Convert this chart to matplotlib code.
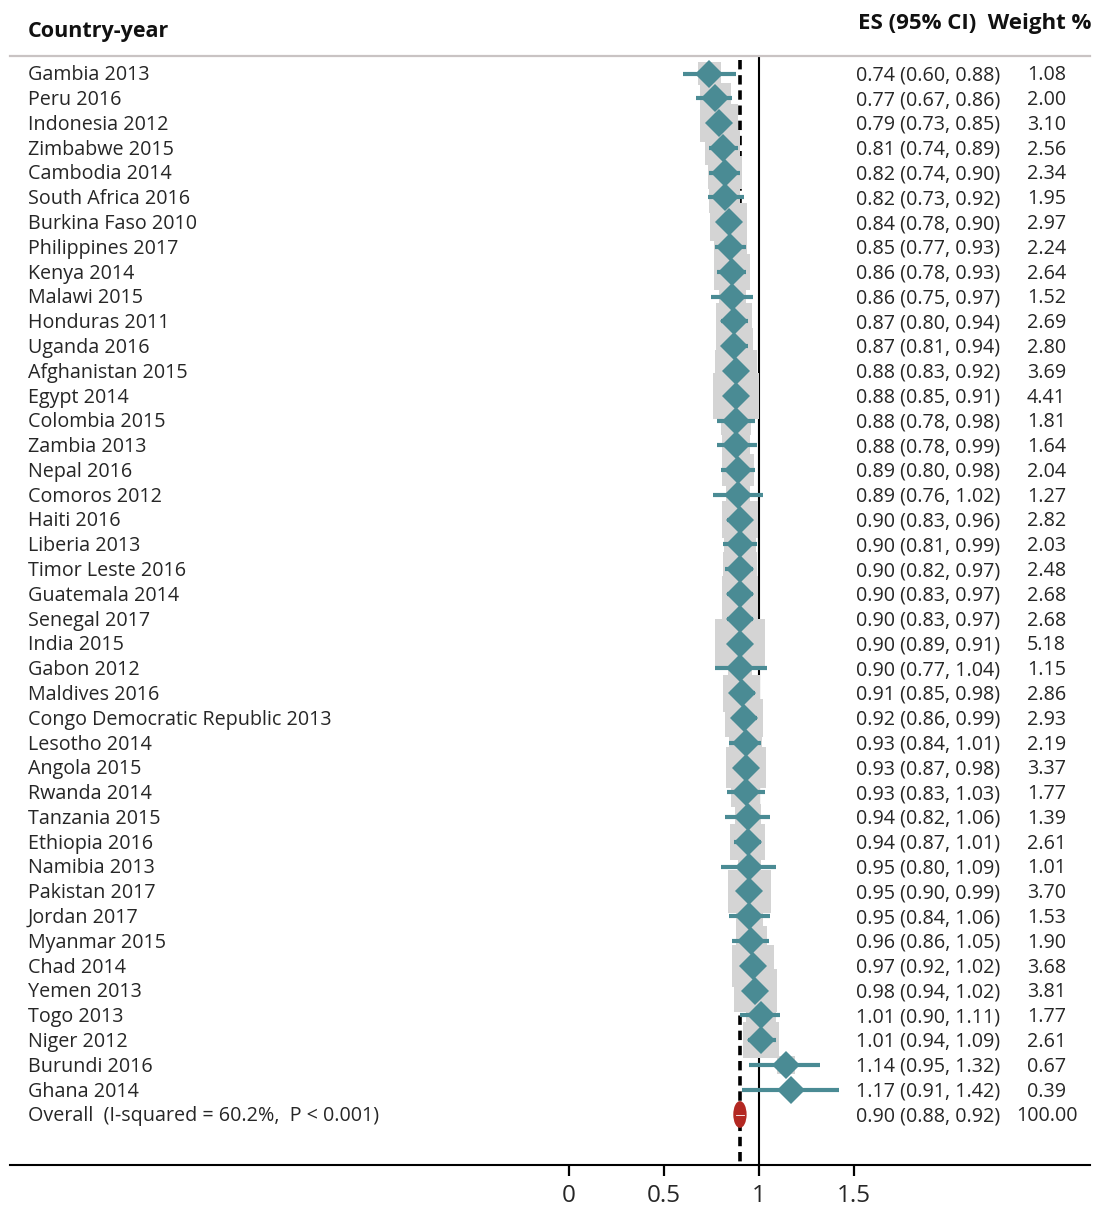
import matplotlib
matplotlib.use("Agg")
import matplotlib.pyplot as plt
from matplotlib.patches import Ellipse

countries = ["Gambia 2013", "Peru 2016", "Indonesia 2012", "Zimbabwe 2015", "Cambodia 2014",
             "South Africa 2016", "Burkina Faso 2010", "Philippines 2017", "Kenya 2014", "Malawi 2015",
             "Honduras 2011", "Uganda 2016", "Afghanistan 2015", "Egypt 2014", "Colombia 2015",
             "Zambia 2013", "Nepal 2016", "Comoros 2012", "Haiti 2016", "Liberia 2013",
             "Timor Leste 2016", "Guatemala 2014", "Senegal 2017", "India 2015", "Gabon 2012",
             "Maldives 2016", "Congo Democratic Republic 2013", "Lesotho 2014", "Angola 2015", "Rwanda 2014",
             "Tanzania 2015", "Ethiopia 2016", "Namibia 2013", "Pakistan 2017", "Jordan 2017",
             "Myanmar 2015", "Chad 2014", "Yemen 2013", "Togo 2013", "Niger 2012",
             "Burundi 2016", "Ghana 2014"]
es = [0.74, 0.77, 0.79, 0.81, 0.82, 0.82, 0.84, 0.85, 0.86, 0.86,
      0.87, 0.87, 0.88, 0.88, 0.88, 0.88, 0.89, 0.89, 0.90, 0.90,
      0.90, 0.90, 0.90, 0.90, 0.90, 0.91, 0.92, 0.93, 0.93, 0.93,
      0.94, 0.94, 0.95, 0.95, 0.95, 0.96, 0.97, 0.98, 1.01, 1.01,
      1.14, 1.17]
lo = [0.60, 0.67, 0.73, 0.74, 0.74, 0.73, 0.78, 0.77, 0.78, 0.75,
      0.80, 0.81, 0.83, 0.85, 0.78, 0.78, 0.80, 0.76, 0.83, 0.81,
      0.82, 0.83, 0.83, 0.89, 0.77, 0.85, 0.86, 0.84, 0.87, 0.83,
      0.82, 0.87, 0.80, 0.90, 0.84, 0.86, 0.92, 0.94, 0.90, 0.94,
      0.95, 0.91]
hi = [0.88, 0.86, 0.85, 0.89, 0.90, 0.92, 0.90, 0.93, 0.93, 0.97,
      0.94, 0.94, 0.92, 0.91, 0.98, 0.99, 0.98, 1.02, 0.96, 0.99,
      0.97, 0.97, 0.97, 0.91, 1.04, 0.98, 0.99, 1.01, 0.98, 1.03,
      1.06, 1.01, 1.09, 0.99, 1.06, 1.05, 1.02, 1.02, 1.11, 1.09,
      1.32, 1.42]
weights = [1.08, 2.00, 3.10, 2.56, 2.34, 1.95, 2.97, 2.24, 2.64, 1.52,
           2.69, 2.80, 3.69, 4.41, 1.81, 1.64, 2.04, 1.27, 2.82, 2.03,
           2.48, 2.68, 2.68, 5.18, 1.15, 2.86, 2.93, 2.19, 3.37, 1.77,
           1.39, 2.61, 1.01, 3.70, 1.53, 1.90, 3.68, 3.81, 1.77, 2.61,
           0.67, 0.39]
overall_label = "Overall  (I-squared = 60.2%,  P < 0.001)"
overall_es, overall_lo, overall_hi, overall_w = 0.90, 0.88, 0.92, 100.00
xticks = [0, 0.5, 1, 1.5]
xticklabels = ["0", "0.5", "1", "1.5"]

W, H = 1093, 1207
fig = plt.figure(figsize=(W / 100, H / 100), dpi=100)
plt.rcParams['font.family'] = ['Open Sans', 'DejaVu Sans']

px_per_unit = 190.5
x0_px = 568.5
left_px, right_px = 10.0, 1090.0
ax = fig.add_axes([left_px / W, (H - 1165) / H, (right_px - left_px) / W, 1165 / H])
ax.set_xlim((left_px - x0_px) / px_per_unit, (right_px - x0_px) / px_per_unit)
row0_px = 73.5
row_step = (1114.5 - 73.5) / 42
ax.set_ylim((1165 - row0_px) / row_step, (0 - row0_px) / row_step)

def px2x(p):
    return (p - x0_px) / px_per_unit

def py2y(p):
    return (p - row0_px) / row_step

n = len(countries)
rows = list(range(n))
teal = '#4a8b94'
txtc = '#262626'
tdy = 1.8 / row_step  # small downward nudge of text baseline

# reference lines
ax.plot([1, 1], [py2y(57), py2y(1165)], color='black', lw=1.5, zorder=0.5)
ax.plot([overall_es, overall_es], [py2y(60), py2y(1165)], color='black', lw=2.6,
        ls=(0, (2.6, 1.6)), zorder=0.4)

# weight squares
ax.scatter(es, rows, s=[250 * w for w in weights], marker='s', color='#d4d4d4',
           linewidths=0, zorder=1)
# CIs
for i in rows:
    ax.plot([lo[i], hi[i]], [i, i], color=teal, lw=3.0, solid_capstyle='butt', zorder=2)
ax.plot(es, rows, 'D', color=teal, ms=14.5, mew=0, zorder=3)

# overall marker
oy = n
ax.add_patch(Ellipse((overall_es, oy), width=(overall_hi - overall_lo) + 0.03, height=1.08,
                     color='#b32822', lw=0, zorder=3))
ax.plot([overall_lo, overall_hi], [oy, oy], color='white', lw=0.6, zorder=3.5)

fs = 14.2
for i in rows:
    ax.text(px2x(28), i + tdy, countries[i], ha='left', va='center', fontsize=fs, color=txtc)
    ax.text(px2x(856), i + tdy, f"{es[i]:.2f} ({lo[i]:.2f}, {hi[i]:.2f})", ha='left', va='center',
            fontsize=fs, color=txtc)
    ax.text(px2x(1046.5), i + tdy, f"{weights[i]:.2f}", ha='center', va='center', fontsize=fs, color=txtc)
ax.text(px2x(28), oy + tdy, overall_label, ha='left', va='center', fontsize=fs, color=txtc)
ax.text(px2x(856), oy + tdy, f"{overall_es:.2f} ({overall_lo:.2f}, {overall_hi:.2f})", ha='left',
        va='center', fontsize=fs, color=txtc)
ax.text(px2x(1046.5), oy + tdy, f"{overall_w:.2f}", ha='center', va='center', fontsize=fs, color=txtc)

# headers
ax.text(px2x(28), py2y(31), "Country-year", ha='left', va='center', fontsize=15.5,
        fontweight='bold', color='#111111')
ax.text(px2x(1091), py2y(23), "ES (95% CI)  Weight %", ha='right', va='center', fontsize=16,
        fontweight='bold', color='#111111')
ax.plot([px2x(10), px2x(1090)], [py2y(56), py2y(56)], color='#c9c3c3', lw=1.6, clip_on=False)

for s in ['top', 'left', 'right']:
    ax.spines[s].set_visible(False)
ax.spines['bottom'].set_linewidth(1.5)
ax.set_yticks([])
ax.set_xticks(xticks)
ax.set_xticklabels(xticklabels, fontsize=17.5, color=txtc)
ax.tick_params(axis='x', length=8, width=1.6, pad=6, colors='black', labelcolor=txtc)

fig.savefig("out.png", dpi=100)
